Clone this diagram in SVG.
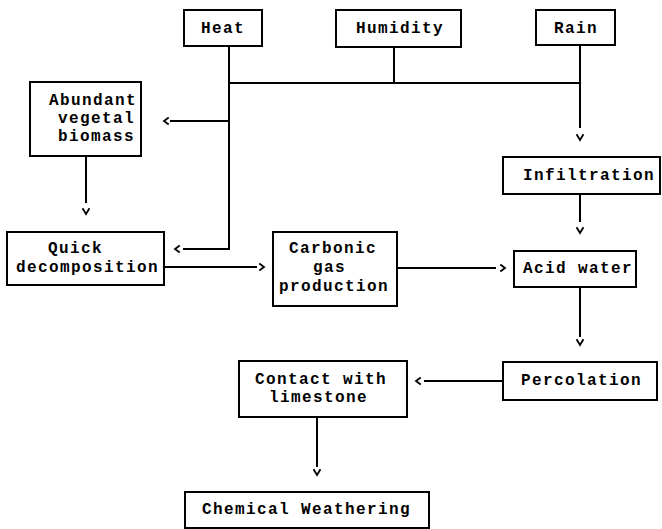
<svg xmlns="http://www.w3.org/2000/svg" width="662" height="529" viewBox="0 0 662 529">
<style>
.box{fill:none;stroke:#000;stroke-width:2}
.ln{fill:none;stroke:#000;stroke-width:2}
.hd{fill:none;stroke:#000;stroke-width:1.8;stroke-linecap:square;stroke-linejoin:miter}
text{font-family:"Liberation Mono","DejaVu Sans Mono",monospace;font-weight:bold;font-size:16px;letter-spacing:1.4px;fill:#000}
</style>
<rect width="662" height="529" fill="#fff"/>
<g id="heat"><rect class="box" x="184" y="10" width="78" height="36"/><text x="201" y="33">Heat</text></g>
<g id="humidity"><rect class="box" x="336" y="10" width="125" height="37"/><text x="356" y="33">Humidity</text></g>
<g id="rain"><rect class="box" x="536" y="10" width="79" height="35"/><text x="554" y="33">Rain</text></g>
<g id="abundant"><rect class="box" x="30" y="82" width="111" height="74"/><text x="49" y="105">Abundant</text><text x="58" y="123">vegetal</text><text x="58" y="141">biomass</text></g>
<g id="quick"><rect class="box" x="7" y="232" width="157" height="53"/><text x="48" y="253">Quick</text><text x="16" y="272">decomposition</text></g>
<g id="carbonic"><rect class="box" x="273" y="232" width="124" height="74"/><text x="289" y="253">Carbonic</text><text x="313" y="272">gas</text><text x="279" y="291">production</text></g>
<g id="infiltration"><rect class="box" x="503" y="157" width="157" height="37"/><text x="523" y="180">Infiltration</text></g>
<g id="acid"><rect class="box" x="514" y="251" width="122" height="36"/><text x="523" y="273">Acid water</text></g>
<g id="percolation"><rect class="box" x="503" y="362" width="154" height="38"/><text x="521" y="385">Percolation</text></g>
<g id="contact"><rect class="box" x="239" y="361" width="168" height="56"/><text x="255" y="384">Contact with</text><text x="269" y="402">limestone</text></g>
<g id="chemical"><rect class="box" x="185" y="492" width="244" height="36"/><text x="202" y="514">Chemical Weathering</text></g>
<g id="connectors">
<path class="ln" d="M229 46V249H183M229 83H580M394 47V83M229 121H170M580 45V128M580 194V222M580 287V337M86 156V203M164 267H257M397 268H496M503 381H424M317 417V467"/>
<path class="hd" d="M168 118L164 121L168 124M179 246L175 249L179 252M83 209L86 214L89 209M260 264L264 267L260 270M501 265L505 268L501 271M577 135L580 140L583 135M577 228L580 233L583 228M577 340L580 345L583 340M420 378L416 381L420 384M314 470L317 475L320 470"/>
</g>
</svg>
